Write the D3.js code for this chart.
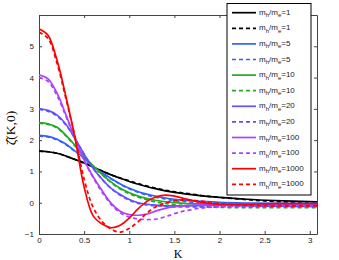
<!DOCTYPE html>
<html>
<head>
<meta charset="utf-8">
<script src="https://cdnjs.cloudflare.com/ajax/libs/d3/7.8.5/d3.min.js"></script>
<style>
  body { margin: 0; background: #fff; }
  svg { display: block; }
  .tick text { font-family: "Liberation Sans", Arial, sans-serif; font-size: 8px; fill: #222; }
</style>
</head>
<body>
<div id="chart"></div>
<script>
// K grid shared by all curves
var kValues = [0, 0.1, 0.2, 0.3, 0.4, 0.5, 0.6, 0.7, 0.8, 0.9, 1.0, 1.1, 1.2, 1.3, 1.4, 1.5, 1.6, 1.8, 2.0, 2.3, 2.6, 3.08];

var m1Solid    = [1.65, 1.63, 1.58, 1.49, 1.38, 1.27, 1.14, 1.01, 0.89, 0.78, 0.68, 0.59, 0.51, 0.44, 0.38, 0.33, 0.29, 0.22, 0.17, 0.11, 0.07, 0.03];
var m1Dash     = [1.65, 1.63, 1.58, 1.49, 1.38, 1.27, 1.14, 1.01, 0.89, 0.79, 0.70, 0.61, 0.53, 0.46, 0.40, 0.35, 0.31, 0.23, 0.17, 0.10, 0.04, -0.02];
var m5Solid    = [2.15, 2.12, 2.03, 1.87, 1.65, 1.42, 1.16, 0.95, 0.77, 0.60, 0.46, 0.35, 0.27, 0.20, 0.15, 0.11, 0.08, 0.04, 0.01, -0.01, -0.02, -0.02];
var m5Dash     = [2.13, 2.10, 2.01, 1.85, 1.64, 1.41, 1.15, 0.94, 0.76, 0.59, 0.45, 0.33, 0.24, 0.17, 0.12, 0.07, 0.04, -0.02, -0.06, -0.10, -0.11, -0.12];
var m10Solid   = [2.56, 2.52, 2.41, 2.15, 1.83, 1.48, 1.18, 0.90, 0.66, 0.46, 0.32, 0.21, 0.13, 0.07, 0.03, 0.00, -0.02, -0.04, -0.05, -0.05, -0.05, -0.04];
var m10Dash    = [2.54, 2.50, 2.39, 2.13, 1.81, 1.47, 1.17, 0.89, 0.64, 0.44, 0.29, 0.18, 0.09, 0.02, -0.02, -0.06, -0.09, -0.13, -0.15, -0.16, -0.16, -0.16];
var m20Solid   = [3.01, 2.95, 2.80, 2.50, 2.05, 1.55, 1.10, 0.75, 0.46, 0.26, 0.10, 0.00, -0.05, -0.08, -0.10, -0.10, -0.10, -0.09, -0.08, -0.07, -0.06, -0.06];
var m20Dash    = [2.98, 2.92, 2.77, 2.48, 2.04, 1.55, 1.10, 0.74, 0.45, 0.24, 0.08, -0.02, -0.07, -0.10, -0.12, -0.13, -0.13, -0.13, -0.12, -0.12, -0.12, -0.12];
var m100Solid  = [4.09, 3.96, 3.50, 2.80, 2.05, 1.36, 0.83, 0.38, -0.02, -0.27, -0.38, -0.40, -0.36, -0.26, -0.18, -0.13, -0.10, -0.07, -0.06, -0.05, -0.05, -0.05];
var m100Dash   = [4.00, 3.88, 3.42, 2.75, 2.02, 1.35, 0.80, 0.33, -0.06, -0.32, -0.46, -0.52, -0.54, -0.52, -0.45, -0.35, -0.27, -0.17, -0.13, -0.12, -0.12, -0.12];
var m1000Solid = [5.56, 5.35, 4.55, 3.37, 2.05, 0.50, -0.42, -0.68, -0.80, -0.72, -0.49, -0.19, 0.05, 0.19, 0.245, 0.21, 0.14, 0.01, -0.05, -0.05, -0.03, -0.03];
var m1000Dash  = [5.45, 5.25, 4.45, 3.30, 2.10, 0.75, -0.15, -0.60, -0.85, -0.94, -0.82, -0.60, -0.32, -0.12, -0.01, 0.06, 0.09, 0.05, -0.03, -0.08, -0.10, -0.10];

var ratios = ['1', '5', '10', '20', '100', '1000'];
var colors = ['#000000', '#3060ff', '#22aa22', '#6050ff', '#b040ff', '#ff0000'];
var xTicks = [0, 0.5, 1, 1.5, 2, 2.5, 3];
var yTicks = [-1, 0, 1, 2, 3, 4, 5];

var series = [
  {ratio: ratios[0], color: colors[0], dash: false, values: m1Solid},
  {ratio: ratios[0], color: colors[0], dash: true,  values: m1Dash},
  {ratio: ratios[1], color: colors[1], dash: false, values: m5Solid},
  {ratio: ratios[1], color: colors[1], dash: true,  values: m5Dash},
  {ratio: ratios[2], color: colors[2], dash: false, values: m10Solid},
  {ratio: ratios[2], color: colors[2], dash: true,  values: m10Dash},
  {ratio: ratios[3], color: colors[3], dash: false, values: m20Solid},
  {ratio: ratios[3], color: colors[3], dash: true,  values: m20Dash},
  {ratio: ratios[4], color: colors[4], dash: false, values: m100Solid},
  {ratio: ratios[4], color: colors[4], dash: true,  values: m100Dash},
  {ratio: ratios[5], color: colors[5], dash: false, values: m1000Solid},
  {ratio: ratios[5], color: colors[5], dash: true,  values: m1000Dash}
];

var width = 339, height = 260;
var margin = {top: 15, right: 22, bottom: 26, left: 39};
var w = width - margin.left - margin.right,
    h = height - margin.top - margin.bottom;

var svg = d3.select('#chart').append('svg')
  .attr('width', width)
  .attr('height', height);

var g = svg.append('g')
  .attr('transform', 'translate(' + margin.left + ',' + margin.top + ')');

var x = d3.scaleLinear().domain([0, 3.08]).range([0, w]);
var y = d3.scaleLinear().domain([-1, 6]).range([h, 0]);

g.append('clipPath').attr('id', 'clip')
  .append('rect').attr('width', w).attr('height', h);

// axes, ticks pointing inward on all four sides
var axisColor = '#444';
function styleAxis(sel) {
  sel.select('.domain').attr('stroke', axisColor).attr('stroke-width', 1);
  sel.selectAll('.tick line').attr('stroke', axisColor);
}
g.append('g').attr('transform', 'translate(0,' + h + ')')
  .call(d3.axisBottom(x).tickValues(xTicks).tickSizeInner(-3).tickSizeOuter(0).tickPadding(3).tickFormat(d3.format('')))
  .call(styleAxis);
g.append('g')
  .call(d3.axisTop(x).tickValues(xTicks).tickSizeInner(-3).tickSizeOuter(0).tickFormat(''))
  .call(styleAxis);
g.append('g')
  .call(d3.axisLeft(y).tickValues(yTicks).tickSizeInner(-3).tickSizeOuter(0).tickPadding(5))
  .call(styleAxis)
  .selectAll('.tick text').text(function (d) { return d < 0 ? '\u2212' + (-d) : d; });
g.append('g').attr('transform', 'translate(' + w + ',0)')
  .call(d3.axisRight(y).tickValues(yTicks).tickSizeInner(-3).tickSizeOuter(0).tickFormat(''))
  .call(styleAxis);

var line = d3.line()
  .x(function (d, i) { return x(kValues[i]); })
  .y(function (d) { return y(d); })
  .curve(d3.curveCatmullRom.alpha(0.5));

g.append('g').attr('clip-path', 'url(#clip)')
  .selectAll('path')
  .data(series)
  .enter().append('path')
  .attr('d', function (d) { return line(d.values); })
  .attr('fill', 'none')
  .attr('stroke', function (d) { return d.color; })
  .attr('stroke-width', 1.7)
  .attr('stroke-dasharray', function (d) { return d.dash ? '4,3' : null; });

// axis labels
svg.append('text')
  .attr('x', margin.left + x(1.54)).attr('y', 258)
  .attr('text-anchor', 'middle')
  .style('font-family', '"Liberation Serif", "Times New Roman", serif')
  .style('font-size', '12px')
  .text('K');

svg.append('text')
  .attr('transform', 'translate(15,128) rotate(-90)')
  .attr('text-anchor', 'middle')
  .style('font-family', '"Liberation Serif", "Times New Roman", serif')
  .style('font-size', '13.5px')
  .text('\u03B6\u0302(K,0)');

// legend
var legend = svg.append('g').attr('transform', 'translate(227,3.5)');
legend.append('rect')
  .attr('width', 84).attr('height', 191.5)
  .attr('fill', '#fff').attr('stroke', '#000').attr('stroke-width', 1);

var item = legend.selectAll('.item')
  .data(series)
  .enter().append('g')
  .attr('class', 'item')
  .attr('transform', function (d, i) { return 'translate(0,' + (9.2 + i * 15.6) + ')'; });

item.append('line')
  .attr('x1', 5).attr('x2', 29)
  .attr('stroke', function (d) { return d.color; })
  .attr('stroke-width', 1.7)
  .attr('stroke-dasharray', function (d) { return d.dash ? '4,3' : null; });

var label = item.append('text')
  .attr('x', 32).attr('y', 2)
  .style('font-family', '"Liberation Sans", Arial, sans-serif')
  .style('font-size', '8px')
  .attr('fill', '#222');
label.append('tspan').text('m');
label.append('tspan').attr('dy', 2.5).style('font-size', '6px').text('h');
label.append('tspan').attr('dy', -2.5).text('/m');
label.append('tspan').attr('dy', 2.5).style('font-size', '6px').text('e');
label.append('tspan').attr('dy', -2.5).text(function (d) { return '=' + d.ratio; });
</script>
</body>
</html>
